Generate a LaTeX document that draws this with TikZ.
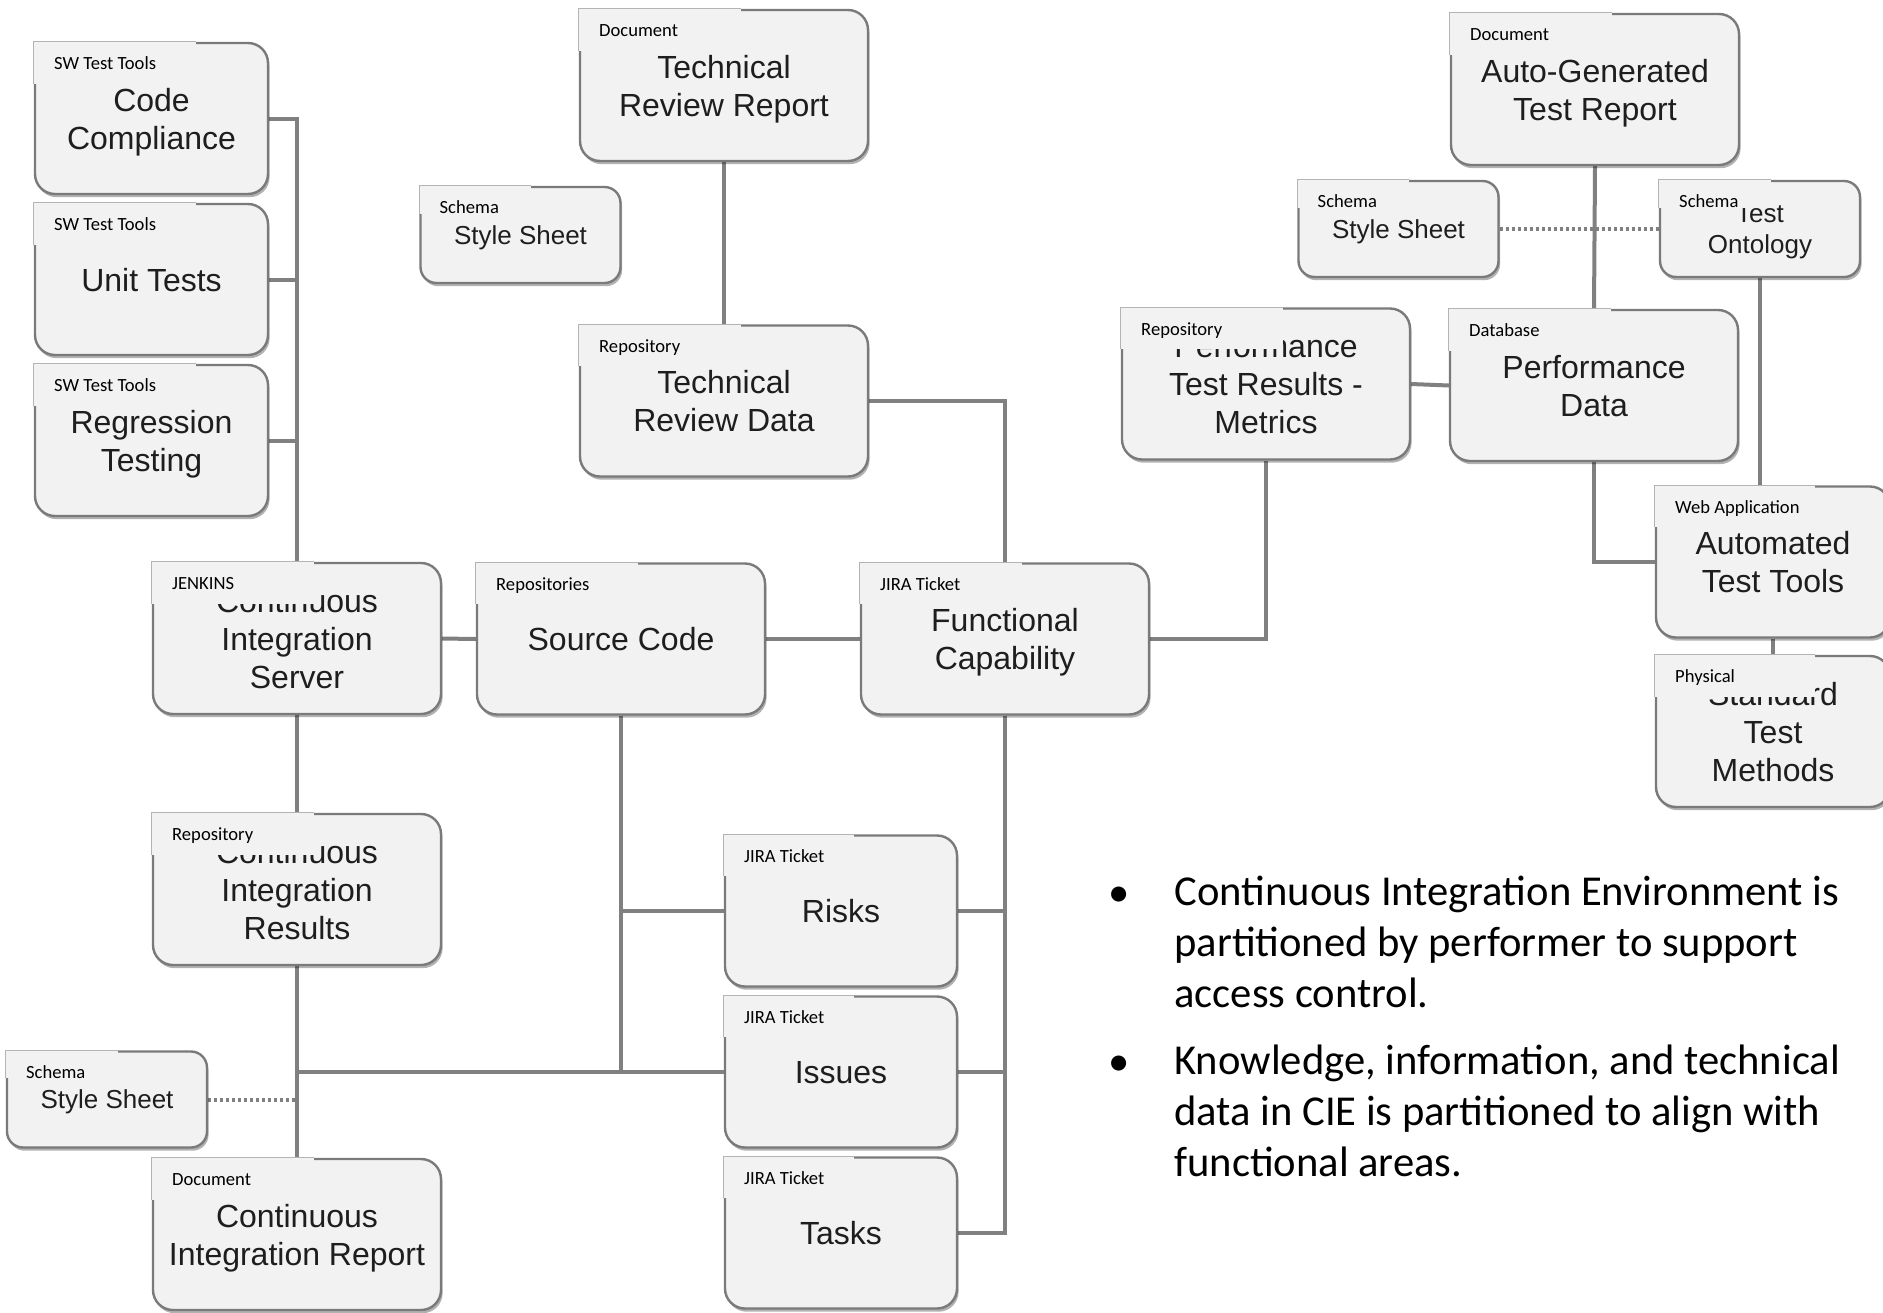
\documentclass[tikz,border=0pt]{standalone}
\usepackage{fontspec}
\setmainfont{Liberation Sans}
\newfontfamily\tagfamily{Carlito}
\usetikzlibrary{positioning,shadows,backgrounds}

\definecolor{boxfill}{HTML}{F2F2F2}
\definecolor{boxline}{HTML}{7A7A7A}
\definecolor{tabgray}{HTML}{B4B4B4}
\definecolor{linkgray}{HTML}{808080}
\definecolor{inktext}{HTML}{1E1E1E}

\newcommand\bigtext{\fontsize{16pt}{19pt}\selectfont}
\newcommand\smalltext{\fontsize{13pt}{15.5pt}\selectfont}
\newcommand\tagtext{\tagfamily\fontsize{9.3pt}{11pt}\selectfont}
\newcommand\notetext{\tagfamily\fontsize{21.3pt}{25.3pt}\selectfont}

\tikzset{
  box/.style={draw=boxline, line width=1.2pt, fill=boxfill, rounded corners=10pt,
    minimum width=144pt, minimum height=75.5pt, inner sep=0pt, align=center,
    text=inktext, font=\bigtext, text depth=0pt,
    drop shadow={shadow xshift=0.8pt, shadow yshift=-1.6pt, opacity=0.3, fill=black}},
  smallbox/.style={box, minimum width=100pt, minimum height=48pt,
    rounded corners=8pt, font=\smalltext},
  tab/.style={fill=boxfill, anchor=north west, inner sep=0pt, outer sep=0pt},
  tabline/.style={draw=tabgray, line width=0.6pt},
  tag/.style={anchor=base west, inner sep=0pt, font=\tagtext, text=black},
  link/.style={draw=linkgray, line width=2pt},
  dotlink/.style={link, dash pattern=on 1.6pt off 1.4pt},
  note/.style={anchor=base west, align=left, inner sep=0pt, font=\notetext, text=black},
}

\begin{document}
\begin{tikzpicture}[x=0.5pt, y=-0.5pt, node distance=80.5pt, on grid]
  \useasboundingbox (0,0) rectangle (1883,1312);

  % test tools column
  \node[box, minimum width=116.5pt] (cc) at (151.5,118.5) {Code\\Compliance};
  \node[box, minimum width=116.5pt] (ut) [below=of cc] {Unit Tests};
  \node[box, minimum width=116.5pt] (rt) [below=of ut] {Regression\\Testing};

  % continuous integration chain
  \node[box] (cis)   at (297,638.5)  {Continuous\\Integration\\Server};
  \node[box] (cir)   at (297,889.5)  {Continuous\\Integration\\Results};
  \node[box] (cirep) at (297,1234.5) {Continuous\\Integration Report};
  \node[smallbox] (ssl) at (107,1099.5) {Style Sheet};

  % middle
  \node[box] (trr) at (724,85.5) {Technical\\Review Report};
  \node[smallbox] (ssm) at (520.5,235) {Style Sheet};
  \node[box] (trd) at (724,401) {Technical\\Review Data};
  \node[box] (src) at (621,639) {Source Code};
  \node[box] (fc)  at (1005,639) {Functional\\Capability};
  \node[box, minimum width=116pt] (risks)  at (841,911) {Risks};
  \node[box, minimum width=116pt] (issues) [below=of risks] {Issues};
  \node[box, minimum width=116pt] (tasks)  [below=of issues] {Tasks};

  % right side
  \node[box] (agr) at (1595,89.5) {Auto-Generated\\Test Report};
  \node[smallbox] (ssr)  at (1398.5,229) {Style Sheet};
  \node[smallbox] (onto) at (1760,229) {Test\\Ontology};
  \node[box] (ptr) at (1266,384) {Performance\\Test Results -\\Metrics};
  \node[box] (pd)  at (1594,385.5) {Performance\\Data};
  \node[box, minimum width=117pt] (att) at (1773,562) {Automated\\Test Tools};
  \node[box, minimum width=117pt] (stm) [below=84.75pt of att] {Standard\\Test\\Methods};

  % category tabs
  \foreach \n/\lbl/\w/\h in {cc/SW Test Tools/81pt/21pt, ut/SW Test Tools/81pt/21pt,
      rt/SW Test Tools/81pt/21pt, cis/JENKINS/81pt/21pt, cir/Repository/81pt/21pt,
      cirep/Document/81pt/21pt, ssl/Schema/56pt/14pt, trr/Document/81pt/21pt,
      ssm/Schema/56pt/14pt, trd/Repository/81pt/21pt, src/Repositories/81pt/21pt,
      fc/JIRA Ticket/81pt/21pt, risks/JIRA Ticket/65pt/21pt,
      issues/JIRA Ticket/65pt/21pt, tasks/JIRA Ticket/65pt/21pt,
      agr/Document/81pt/21pt, ssr/Schema/56pt/14pt, onto/Schema/56pt/14pt,
      ptr/Repository/81pt/21pt, pd/Database/81pt/21pt,
      att/Web Application/80pt/21pt, stm/Physical/80pt/21pt}{
    \node[tab, minimum width=\w, minimum height=\h] (\n-tab) at (\n.north west) {};
    \draw[tabline] (\n-tab.south west) |- (\n-tab.north east);
    \node[tag] (\n-tag) at ([xshift=10pt,yshift=-14pt]\n.north west) {\lbl};
  }

  % connectors
  \begin{scope}[on background layer]
    \draw[link] (cc.east) -| (cis.north);
    \draw[link] (ut.east) -| (cis.north);
    \draw[link] (rt.east) -| (cis.north);
    \draw[link] (cis.east) -- (src.west);
    \draw[link] (src.east) -- (fc.west);
    \draw[link] (cis.south) -- (cir.north);
    \draw[link] (cir.south) -- (cirep.north);
    \draw[link] (issues.west) -| (cir.south);
    \draw[link] (src.south) |- (risks.west);
    \draw[link] (src.south) |- (issues.west);
    \draw[link] (fc.south) |- (risks.east);
    \draw[link] (fc.south) |- (issues.east);
    \draw[link] (fc.south) |- (tasks.east);
    \draw[link] (trr.south) -- (trd.north);
    \draw[link] (trd.east) -| (fc.north);
    \draw[link] (fc.east) -| (ptr.south);
    \draw[link] (ptr.east) -- (pd.west);
    \draw[link] (agr.south) -- (pd.north);
    \draw[link] (pd.south) |- (att.west);
    \draw[link] (onto.south) -- (onto.south |- att.north);
    \draw[link] (att.south) -- (stm.north);
    \draw[dotlink] (ssl.east) -- (ssl.east -| cir.south);
    \draw[dotlink] (ssr.east) -- (onto.west);
  \end{scope}

  % notes (a multi-line node sits on its last baseline)
  \node[note, anchor=base] (dot1) at (1119,906) {\textbullet};
  \node[note] (note1) at (1174,1007)
    {Continuous Integration Environment is\\partitioned by performer to support\\access control.};
  \node[note, anchor=base] (dot2) at (1119,1075) {\textbullet};
  \node[note] (note2) at (1174,1176)
    {Knowledge, information, and technical\\data in CIE is partitioned to align with\\functional areas.};
\end{tikzpicture}
\end{document}
